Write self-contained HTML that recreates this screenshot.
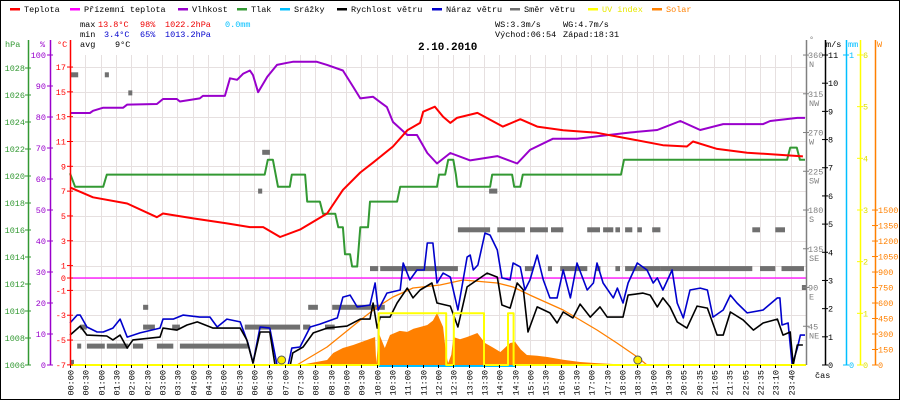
<!DOCTYPE html>
<html><head><meta charset="utf-8">
<style>
html,body{margin:0;padding:0;background:#fff;}
svg{display:block;}
text{font-family:"Liberation Mono",monospace;font-size:8.5px;}
</style></head>
<body>
<svg id="chart" width="900" height="400" viewBox="0 0 900 400" xmlns="http://www.w3.org/2000/svg">
<rect x="0.5" y="0.5" width="899" height="399" fill="#fff" stroke="#000"/>
<g id="grid"></g>
<g id="series"></g>
<g id="axes"></g>
<g id="legend"></g>
<g id="stats">
<text x="80" y="27" fill="#000">max</text>
<text x="98" y="27" fill="#e00">13.8°C</text>
<text x="140" y="27" fill="#e00">98%</text>
<text x="165" y="27" fill="#e00">1022.2hPa</text>
<text x="225" y="27" fill="#00bfff">0.0mm</text>
<text x="80" y="37" fill="#000">min</text>
<text x="104" y="37" fill="#00c">3.4°C</text>
<text x="140" y="37" fill="#00c">65%</text>
<text x="165" y="37" fill="#00c">1013.2hPa</text>
<text x="80" y="47" fill="#000">avg</text>
<text x="115" y="47" fill="#000">9°C</text>
<text x="495" y="27" fill="#000">WS:3.3m/s</text>
<text x="563" y="27" fill="#000">WG:4.7m/s</text>
<text x="495" y="37" fill="#000">Východ:06:54</text>
<text x="563" y="37" fill="#000">Západ:18:31</text>
<text x="418" y="50" fill="#000" style="font-size:11px;font-weight:bold">2.10.2010</text>
</g>
</svg>
<script>
const timeLabels=["00:00","00:30","01:00","01:30","02:00","02:30","03:00","03:30","04:00","04:30","05:00","05:30","06:00","06:30","07:00","07:30","08:00","08:30","09:00","09:30","10:00","10:30","11:00","11:30","12:00","12:30","13:00","13:30","14:00","14:30","15:00","15:30","16:00","16:30","17:00","17:30","18:00","18:30","19:00","19:30","20:05","20:35","21:05","21:35","22:05","22:35","23:10","23:40"];
const tempT=[0,45,112,170,182,241,307,352,378,411,450,503,534,568,593,632,660,685,691,714,730,744,757,797,847,881,914,965,1031,1096,1160,1207,1219,1266,1325,1434];
const tempV=[7.3,6.5,6.0,4.9,5.2,4.8,4.4,4.1,4.1,3.3,3.9,5.2,7.1,8.5,9.3,10.6,11.9,12.5,13.4,13.8,13.0,12.5,12.9,13.3,12.2,12.8,12.2,11.9,11.7,11.2,10.7,10.6,11.0,10.4,10.1,9.8];
const humT=[0,39,45,65,104,112,170,182,209,215,254,260,303,313,327,339,352,358,368,386,405,425,436,483,503,534,554,568,593,620,632,660,679,699,718,744,783,836,875,900,945,992,1043,1096,1149,1194,1233,1278,1356,1370,1423,1438];
const humV=[81.3,81.3,82,83,83,84,84.2,85.8,85.8,85,86,86.8,86.8,92.5,92,94,95,93.5,88,93,96.8,97.5,97.8,97.8,96.8,95,89.7,86,86.5,83.2,78.4,74.2,74.2,68.4,65,68.4,66,67.4,65,69.4,73,73,74,75,75.8,78.7,75.8,77.7,77.7,78.7,79.7,79.7];
const presT=[0,10,65,72,381,387,397,407,430,434,460,464,489,495,519,525,534,538,548,552,562,568,583,587,640,646,718,722,734,740,750,755,758,822,826,865,869,881,886,1078,1084,1403,1409,1422,1428,1438];
const presV=[1020.2,1019.2,1019.2,1020.1,1020.1,1021.2,1021.2,1019.2,1019.2,1020.1,1020.1,1018.1,1018.1,1017.2,1017.2,1016.2,1016.2,1014.2,1014.2,1013.3,1013.3,1016.2,1016.2,1018.1,1018.1,1019.2,1019.2,1020.1,1020.1,1021.2,1021.2,1020.1,1019.2,1019.2,1020.1,1020.1,1019.2,1019.2,1020.1,1020.1,1021.2,1021.2,1022.1,1022.1,1021.2,1021.2];
const windT=[0,20,33,72,84,98,112,123,176,182,209,229,249,280,333,346,358,372,391,401,431,436,456,476,503,542,568,587,593,601,607,626,640,660,671,685,708,718,744,759,777,816,836,845,861,875,887,896,914,939,953,965,984,998,1018,1037,1051,1082,1092,1121,1135,1149,1160,1174,1188,1207,1227,1247,1266,1278,1292,1317,1337,1356,1384,1395,1409,1415,1423,1434];
const windV=[1.06,1.38,1.06,1.03,0.89,1.06,0.6,0.89,0.99,1.31,1.24,1.42,1.53,1.31,1.31,0.89,0.07,1.17,1.17,0,0,0.43,0.64,1.14,1.31,1.38,1.63,1.63,2.2,1.31,1.7,1.7,2.2,2.73,2.38,2.66,2.91,2.2,2.09,1.35,2.77,3.26,3.12,2.13,2.02,2.91,2.66,1.17,2.06,1.85,1.49,1.88,1.67,2.16,1.7,2.06,1.7,1.7,2.48,2.55,2.48,2.06,2.38,2.06,1.53,1.31,2.09,2.02,1.06,1.06,1.88,1.6,1.24,1.49,1.63,1.06,1.17,0,0.71,0.71];
const gustT=[0,14,20,33,53,65,84,98,112,137,176,182,202,221,254,274,288,307,333,348,358,372,391,405,427,434,450,470,489,523,534,548,562,587,597,603,620,646,652,665,679,693,699,710,718,730,744,759,777,783,789,798,812,822,836,845,861,867,881,890,900,914,926,939,953,965,979,992,1012,1024,1031,1043,1063,1071,1082,1092,1110,1129,1141,1149,1160,1178,1188,1200,1213,1233,1247,1258,1278,1292,1305,1325,1356,1384,1389,1393,1405,1413,1423,1429,1438];
const gustV=[1.49,1.77,1.77,1.35,1.17,1.17,1.31,1.63,0.99,1.14,1.31,1.63,1.63,1.77,1.7,1.7,1.35,1.63,1.53,0.78,0.07,1.35,1.31,0,0,0.6,0.64,1.35,1.45,1.67,2.41,2.48,2.06,2.13,2.91,1.95,2.55,2.66,3.62,3.02,3.37,3.37,4.33,4.33,2.91,3.26,3.12,1.95,3.83,3.9,3.37,3.55,4.68,4.61,4.08,3.09,3.02,3.62,3.48,2.66,3.02,3.9,3.02,2.38,2.38,3.37,2.38,3.62,2.66,2.91,3.62,2.91,2.38,2.73,2.2,2.91,3.62,3.37,2.91,3.09,2.66,3.37,2.2,1.67,2.66,2.73,2.66,1.7,1.95,2.48,2.2,1.85,1.95,2.38,2.38,1.42,1.49,0,0.6,1.06,1.06];
const dirStart=[0,68,114,368,376,587,607,143,466,513,20,143,200,342,456,499,14,33,72,123,170,215,0,759,836,900,941,1012,1043,1067,1086,1110,1139,1335,1380,890,935,959,1030,1067,1086,1155,1350,1392,820,1432];
const dirEnd=[16,76,121,376,391,603,759,153,485,616,33,166,215,450,470,518,18,68,114,143,202,348,6,822,890,935,965,1037,1063,1076,1100,1119,1155,1350,1399,906,943,1012,1037,1076,1155,1335,1380,1436,836,1440];
const dirDeg=[337,337,316,202,247,112,112,67,67,67,44,44,44,44,44,44,22,22,22,22,22,22,3,157,157,157,157,157,157,157,157,157,157,157,157,112,112,112,112,112,112,112,112,112,202,90];
const solarT=[450,503,515,534,554,581,597,599,605,616,626,645,660,672,685,699,710,718,730,736,740,746,750,763,777,797,812,827,842,861,871,882,894,914,934,965,998,1030,1063,1076];
const solarV=[0,48,116,165,194,242,271,19,300,165,290,330,320,350,368,387,430,503,368,100,19,100,271,250,271,310,213,170,126,213,223,150,97,90,77,50,29,18,10,0];
const theoT=[444,503,568,601,632,671,724,769,836,867,900,965,1031,1070,1110,1129];
const theoV=[0,174,435,561,658,745,774,823,794,755,677,532,339,213,77,0];
const uvT=[0,604,604,736,736,751,751,810,810,857,857,868,868,1440];
const uvV=[0,0,1,1,0,0,1,1,0,0,1,1,0,0];
const rainT=[604,871];
const rainV=[0,0];
const groundT=[0,1440];
const groundV=[0,0];
const sunTimes=[414,1111];

const tempTicks=[17,15,13,11,9,7,5,3,1,0,-1,-3,-5,-7];
const humTicks=[0,10,20,30,40,50,60,70,80,90,100];
const presTicks=[1006,1008,1010,1012,1014,1016,1018,1020,1022,1024,1026,1028];
const dirTicks=[45,90,135,180,225,270,315,360];
const dirNames=["NE","E","SE","S","SW","W","NW","N"];
const windTicks=[0,1,2,3,4,5,6,7,8,9,10,11];
const uvTicks=[0,1,2,3,4,5,6];
const solarTicks=[0,150,300,450,600,750,900,1050,1200,1350,1500];

const NS="http://www.w3.org/2000/svg";
const X0=70,X1=806,YB=365;
function X(t){return X0+t*(X1-X0)/1440;}
function yT(v){return 278-v*12.41;}
function yH(v){return 365-v*3.1;}
function yP(v){return 365-(v-1006)*13.5;}
function yW(v){return 365-v*28.18;}
function yD(v){return 365-v*0.861;}
function yS(v){return 365-v*0.1033;}
function yU(v){return 365-v*51.67;}
function mk(tag,attrs,parent){const e=document.createElementNS(NS,tag);for(const k in attrs)e.setAttribute(k,attrs[k]);parent.appendChild(e);return e;}
const grid=document.getElementById('grid'),ser=document.getElementById('series'),axes=document.getElementById('axes'),leg=document.getElementById('legend');

// grid
const step=(X1-X0)/timeLabels.length;
timeLabels.forEach((lab,i)=>{
  const x=Math.round(X0+i*step)+0.5;
  const l=mk('line',{x1:x,x2:x,y1:55,y2:YB,stroke:'#e6e0e0'},grid);
  
  
  const tk=mk('line',{x1:x,x2:x,y1:YB,y2:YB+3,stroke:'#000'},axes);
  
  
  const tx=mk('text',{x:0,y:0,'text-anchor':'end',transform:`translate(${x+3},370) rotate(-90)`,fill:'#000'},axes);
  tx.textContent=lab;
  
  
});
tempTicks.forEach(v=>{
  const y=Math.round(yT(v))+0.5;
  const l=mk('line',{x1:X0,x2:X1,y1:y,y2:y,stroke:'#e6e0e0'},grid);
  
  
});

function poly(T,V,fy,color,w,name){
  const pts=T.map((t,i)=>X(t).toFixed(1)+','+fy(V[i]).toFixed(1)).join(' ');
  const p=mk('polyline',{points:pts,fill:'none',stroke:color,'stroke-width':w,'stroke-linejoin':'round'},ser);
  
  
  return p;
}
// solar area
{
  const pts=[X(solarT[0]).toFixed(1)+','+YB].concat(solarT.map((t,i)=>X(t).toFixed(1)+','+yS(solarV[i]).toFixed(1))).concat([X(solarT[solarT.length-1]).toFixed(1)+','+YB]).join(' ');
  const a=mk('polygon',{points:pts,fill:'#ff8000'},ser);
  
  
}
// direction dashes
dirDeg.forEach((d,i)=>{
  const x1=X(dirStart[i]),x2=Math.max(X(dirEnd[i]),x1+4);
  const r=mk('rect',{x:x1.toFixed(1),y:(yD(d)-2.5).toFixed(1),width:(x2-x1).toFixed(1),height:5,fill:'#707070'},ser);
  
  
});
poly(theoT,theoV,yS,'#ff8000',1.3,'solar-theoretical-line');
poly(groundT,groundV,yT,'#ff00ff',1.2,'ground-temperature-line');
poly(presT,presV,yP,'#339933',2,'pressure-line');
poly(humT,humV,yH,'#9900cc',2,'humidity-line');
poly(tempT,tempV,yT,'#ff0000',2,'temperature-line');
poly(gustT,gustV,yW,'#0000cc',1.6,'wind-gust-line');
poly(windT,windV,yW,'#000000',1.6,'wind-speed-line');
poly(rainT,rainV,v=>366-v*310,'#00bfff',2,'rain-line');
poly(uvT,uvV,yU,'#ffff00',2,'uv-index-line');
sunTimes.forEach((t,i)=>{
  const c=mk('circle',{cx:X(t).toFixed(1),cy:360,r:4,fill:'#ffee00',stroke:'#555','stroke-width':1},ser);
  
  
});

// axes
function vline(x,y1,y2,color,name){
  const l=mk('line',{x1:x,x2:x,y1:y1,y2:y2,stroke:color,'stroke-width':1.5},axes);
  
  
}
function label(x,y,txt,color,anchor,name){
  const t=mk('text',{x:x,y:y,fill:color,'text-anchor':anchor||'start'},axes);
  t.textContent=txt;
  
  
  return t;
}
vline(28.5,40,YB,'#339933','pressure-axis');
vline(50.5,40,YB,'#9900cc','humidity-axis');
vline(70.5,40,YB,'#ff0000','temperature-axis');
vline(806.5,40,YB,'#808080','direction-axis');
vline(825.5,40,YB,'#000000','wind-axis');
vline(846.5,40,YB,'#00bfff','rain-axis');
vline(860.5,40,YB,'#ffff00','uv-axis');
vline(875.5,40,YB,'#ff8000','solar-axis');
label(5,47,'hPa','#339933','start','pressure-axis-title');
label(40,47,'%','#9900cc','start','humidity-axis-title');
label(57,47,'°C','#ff0000','start','temperature-axis-title');
label(809,42,'°','#808080','start','direction-axis-title');
label(826,47,'m/s','#000','start','wind-axis-title');
label(848,47,'mm','#00bfff','start','rain-axis-title');
label(877,47,'W','#ff8000','start','solar-axis-title');
label(815,378,'čas','#000','start','time-axis-title');
presTicks.forEach(v=>{const y=yP(v);mk('line',{x1:25,x2:31,y1:y,y2:y,stroke:'#339933'},axes);label(25,y+3,String(v),'#339933','end','pressure-tick-label');});
humTicks.forEach(v=>{const y=yH(v);mk('line',{x1:47,x2:53,y1:y,y2:y,stroke:'#9900cc'},axes);label(46,y+3,String(v),'#9900cc','end','humidity-tick-label');});
tempTicks.forEach(v=>{const y=yT(v);mk('line',{x1:67,x2:73,y1:y,y2:y,stroke:'#ff0000'},axes);label(66,y+3,String(v),'#ff0000','end','temperature-tick-label');});
dirTicks.forEach((v,i)=>{const y=yD(v);mk('line',{x1:803,x2:809,y1:y,y2:y,stroke:'#808080'},axes);label(808,y+3,String(v),'#808080','start','direction-tick-label');label(809,y+12,dirNames[i],'#808080','start','direction-name-label');});
windTicks.forEach(v=>{const y=yW(v);mk('line',{x1:822,x2:828,y1:y,y2:y,stroke:'#000'},axes);label(828,y+3,String(v),'#000','start','wind-tick-label');});
[0,1].forEach(v=>{const y=v?55:YB;mk('line',{x1:843,x2:849,y1:y,y2:y,stroke:'#00bfff'},axes);label(849,y+3,String(v),'#00bfff','start','rain-tick-label');});
uvTicks.forEach(v=>{const y=yU(v);mk('line',{x1:857,x2:863,y1:y,y2:y,stroke:'#ffff00'},axes);label(863,y+3,String(v),'#e0e000','start','uv-tick-label');});
solarTicks.forEach(v=>{const y=yS(v);mk('line',{x1:872,x2:878,y1:y,y2:y,stroke:'#ff8000'},axes);label(878,y+3,String(v),'#ff8000','start','solar-tick-label');});

// legend
const legNames=["Teplota","Přízemní teplota","Vlhkost","Tlak","Srážky","Rychlost větru","Náraz větru","Směr větru","UV index","Solar"];
const legColors=["#ff0000","#ff00ff","#9900cc","#339933","#00bfff","#000000","#0000cc","#707070","#ffff00","#ff8000"];
const legX=[10,70,178,237,280,337,432,510,588,652];
legNames.forEach((n,i)=>{
  const g=mk('g',{},leg);
  
  
  mk('rect',{x:legX[i],y:8,width:10,height:2.5,fill:legColors[i]},g);
  const t=mk('text',{x:legX[i]+14,y:12,fill:i===8?'#e8e800':(i===9?'#ff8000':'#000')},g);
  t.textContent=n;
});
</script>
</body></html>
